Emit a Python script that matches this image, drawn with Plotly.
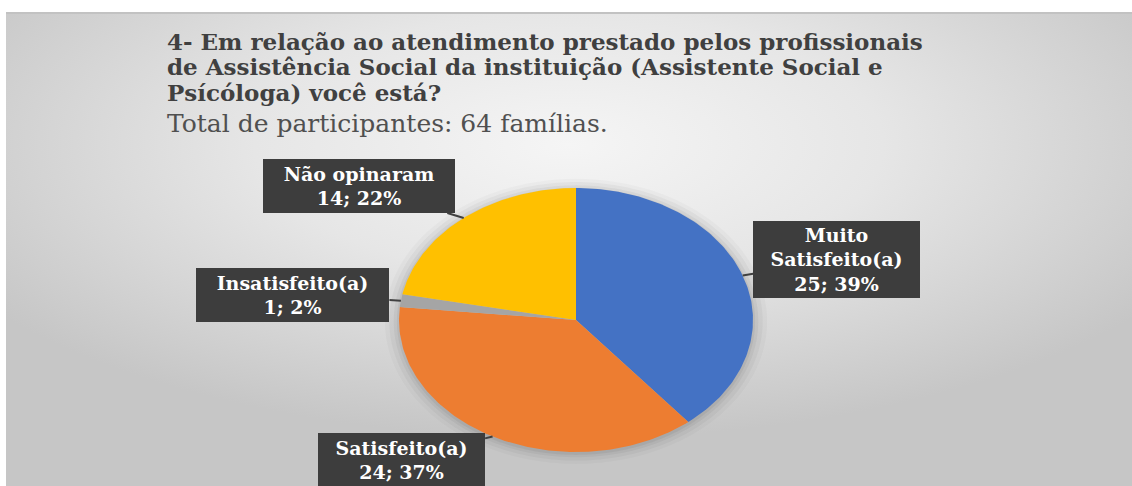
import math
import base64
import plotly.graph_objects as go

# ---------------- data ----------------
categories = ["Muito Satisfeito(a)", "Satisfeito(a)", "Insatisfeito(a)", "Não opinaram"]
label_names = ["Muito<br>Satisfeito(a)", "Satisfeito(a)", "Insatisfeito(a)", "Não opinaram"]
counts = [25, 24, 1, 14]
percent_labels = ["39%", "37%", "2%", "22%"]
colors = ["#4472C4", "#ED7D31", "#A5A5A5", "#FFC000"]

title_lines = [
    "4- Em relação ao atendimento prestado pelos profissionais",
    "de Assistência Social da instituição (Assistente Social e",
    "Psícóloga) você está?",
]
subtitle = "Total de participantes: 64 famílias."

# ---------------- layout constants ----------------
W, H = 1132, 486
CX, CY = 576, 320          # pie centre (px)
RX, RY = 177, 132          # pie radii (px) -> elliptical pie
x_range = [-CX / RX, (W - CX) / RX]
y_range = [-(H - CY) / RY, CY / RY]

# label box centres relative to arrow tip (px) and box sizes
label_offsets = [(94, -16), (-91, 24), (-108, -6), (-105, -32)]
label_sizes = [(167, 77), (167, 54), (193, 54), (192, 54)]

fig = go.Figure()

# soft shadow around the pie
for k, op in [(1.08, 0.025), (1.055, 0.035), (1.03, 0.045), (1.012, 0.05)]:
    ts = [2 * math.pi * i / 240 for i in range(241)]
    fig.add_trace(go.Scatter(
        x=[k * math.sin(t) for t in ts], y=[k * math.cos(t) - 0.01 for t in ts],
        fill="toself", mode="none", fillcolor=f"rgba(0,0,0,{op})",
        hoverinfo="skip", showlegend=False))

# pie wedges (clockwise from 12 o'clock)
total = sum(counts)
start = 0.0
mids = []
for name, c, col in zip(categories, counts, colors):
    a0 = start
    a1 = start + 360.0 * c / total
    n = max(3, int((a1 - a0) / 1.0) + 2)
    xs, ys = [0.0], [0.0]
    for i in range(n + 1):
        t = math.radians(a0 + (a1 - a0) * i / n)
        xs.append(math.sin(t))
        ys.append(math.cos(t))
    xs.append(0.0)
    ys.append(0.0)
    fig.add_trace(go.Scatter(
        x=xs, y=ys, fill="toself", mode="lines", line=dict(width=0, color=col),
        fillcolor=col, name=name, showlegend=False,
        hovertemplate=f"{name}: {c}<extra></extra>"))
    mids.append(math.radians((a0 + a1) / 2))
    start = a1

# data labels (callouts)
annotations = []
for lab, c, pct, m, (ox, oy), (bw, bh) in zip(label_names, counts, percent_labels,
                                               mids, label_offsets, label_sizes):
    annotations.append(dict(
        x=math.sin(m), y=math.cos(m), xref="x", yref="y",
        ax=ox, ay=oy, showarrow=True, arrowhead=0, arrowwidth=2,
        arrowcolor="#404040", standoff=0,
        text=f"<b>{lab}<br>{c}; {pct}</b>",
        font=dict(family="DejaVu Serif", size=19, color="#FFFFFF"),
        bgcolor="#3D3D3D", borderpad=0, borderwidth=0,
        width=bw, height=bh, align="center", valign="middle"))

# title lines
title_y = [42, 67, 93]
for txt, yy in zip(title_lines, title_y):
    annotations.append(dict(
        x=165 / W, y=1 - yy / H, xref="paper", yref="paper",
        xanchor="left", yanchor="middle", showarrow=False,
        text=f"<b>{txt}</b>",
        font=dict(family="DejaVu Serif", size=23, color="#404040")))
annotations.append(dict(
    x=165 / W, y=1 - 123 / H, xref="paper", yref="paper",
    xanchor="left", yanchor="middle", showarrow=False,
    text=subtitle,
    font=dict(family="DejaVu Serif", size=25, color="#505050")))

# gradient background panel (svg data uri)
PX0, PY0 = 6, 12
PW, PH = W - PX0, H - PY0
svg = f'''<svg xmlns="http://www.w3.org/2000/svg" width="{PW}" height="{PH}" viewBox="0 0 {PW} {PH}" preserveAspectRatio="none">
<defs><radialGradient id="g" cx="0.5" cy="0.28" r="0.62">
<stop offset="0" stop-color="#f5f5f5"/><stop offset="0.45" stop-color="#e6e6e6"/>
<stop offset="1" stop-color="#c6c6c6"/></radialGradient></defs>
<rect x="0" y="0" width="{PW}" height="{PH}" fill="url(#g)"/>
<rect x="0" y="0" width="{PW}" height="2" fill="#c2c2c2"/>
</svg>'''
src = "data:image/svg+xml;base64," + base64.b64encode(svg.encode()).decode()

fig.update_layout(
    width=W, height=H,
    margin=dict(l=0, r=0, t=0, b=0),
    paper_bgcolor="#FFFFFF", plot_bgcolor="rgba(0,0,0,0)",
    xaxis=dict(range=x_range, visible=False, fixedrange=True),
    yaxis=dict(range=y_range, visible=False, fixedrange=True),
    showlegend=False,
    annotations=annotations,
    images=[dict(source=src, xref="paper", yref="paper",
                 x=PX0 / W, y=1 - PY0 / H, sizex=PW / W, sizey=PH / H,
                 xanchor="left", yanchor="top", sizing="stretch", layer="below")],
)

fig.write_html(
    "out.html",
    config={"displayModeBar": False},
    post_script="document.body.style.margin='0';document.body.style.overflow='hidden';",
)
